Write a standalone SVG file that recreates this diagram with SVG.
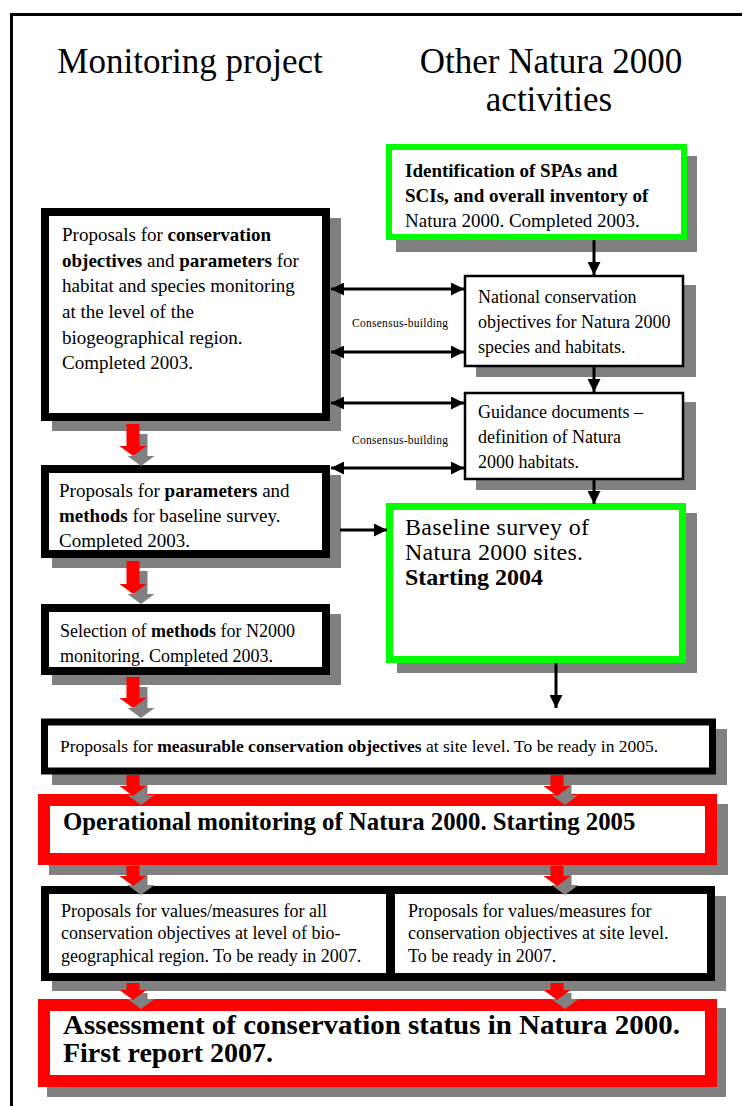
<svg xmlns="http://www.w3.org/2000/svg" width="742" height="1106" viewBox="0 0 742 1106">
<defs>
<style>
text{font-family:"Liberation Serif","Times New Roman",serif;fill:#000}
.t{font-size:35px}
.b{font-weight:bold}
.sh{fill:#808080}
.bk{fill:#fff;stroke:#000}
.gr{fill:#fff;stroke:#00ff00}
.rd{fill:#fff;stroke:#ff0000}
.ln{stroke:#000;stroke-width:3;fill:none}
.ra{fill:#ff0000}
.cb{font-size:11.5px}
</style>
<marker id="ah" viewBox="0 0 13 13" refX="13" refY="6.5" markerWidth="13" markerHeight="13" markerUnits="userSpaceOnUse" orient="auto-start-reverse"><path d="M0,0 L13,6.5 L0,13 z" fill="#000"/></marker>
</defs>
<rect width="742" height="1106" fill="#fff"/>
<path d="M11.5,1106 V14.5 H742" fill="none" stroke="#000" stroke-width="3"/>

<g id="titles">
<text class="t" x="190" y="73" text-anchor="middle">Monitoring project</text>
<text class="t" x="551" y="73" text-anchor="middle">Other Natura 2000</text>
<text class="t" x="549" y="111" text-anchor="middle">activities</text>
</g>

<g id="n-identification">
<rect class="sh" x="396" y="156" width="301" height="96"/>
<rect class="gr" x="389" y="147" width="295" height="90" stroke-width="6"/>
<text x="405" y="177" font-size="19" class="b">Identification of SPAs and</text>
<text x="405" y="202" font-size="19" class="b">SCIs, and overall inventory of</text>
<text x="405" y="227" font-size="19">Natura 2000. Completed 2003.</text>
</g>

<g id="n-proposals-objectives">
<rect class="sh" x="52" y="218" width="289" height="213"/>
<rect class="bk" x="45" y="212" width="281" height="205" stroke-width="8"/>
<text x="62" y="241" font-size="19">Proposals for <tspan class="b">conservation</tspan></text>
<text x="62" y="267" font-size="19"><tspan class="b">objectives</tspan> and <tspan class="b">parameters</tspan> for</text>
<text x="62" y="292" font-size="19">habitat and species monitoring</text>
<text x="62" y="318" font-size="19">at the level of the</text>
<text x="62" y="344" font-size="19">biogeographical region.</text>
<text x="62" y="369" font-size="19">Completed 2003.</text>
</g>

<g id="n-national">
<rect class="sh" x="476" y="285" width="220" height="92"/>
<rect class="bk" x="465" y="276" width="218" height="90" stroke-width="2.5"/>
<text x="478" y="303" font-size="18">National conservation</text>
<text x="478" y="328" font-size="18">objectives for Natura 2000</text>
<text x="478" y="353" font-size="18">species and habitats.</text>
</g>

<g id="n-guidance">
<rect class="sh" x="476" y="402" width="220" height="88"/>
<rect class="bk" x="465" y="393" width="218" height="86" stroke-width="2.5"/>
<text x="478" y="418" font-size="18">Guidance documents –</text>
<text x="478" y="443" font-size="18">definition of Natura</text>
<text x="478" y="468" font-size="18">2000 habitats.</text>
</g>

<g id="n-proposals-parameters">
<rect class="sh" x="52" y="475" width="289" height="93"/>
<rect class="bk" x="45" y="469" width="281" height="85" stroke-width="8"/>
<text x="59" y="497" font-size="19">Proposals for <tspan class="b">parameters</tspan> and</text>
<text x="59" y="522" font-size="19"><tspan class="b">methods</tspan> for baseline survey.</text>
<text x="59" y="547" font-size="19">Completed 2003.</text>
</g>

<g id="n-selection">
<rect class="sh" x="52" y="614" width="289" height="71"/>
<rect class="bk" x="45" y="608" width="281" height="63" stroke-width="8"/>
<text x="60" y="637" font-size="18">Selection of <tspan class="b">methods</tspan> for N2000</text>
<text x="60" y="662" font-size="18">monitoring. Completed 2003.</text>
</g>

<g id="n-baseline">
<rect class="sh" x="397" y="513" width="300" height="160"/>
<rect class="gr" x="389.5" y="506.5" width="293" height="153" stroke-width="7"/>
<text x="405" y="535" font-size="24" textLength="184">Baseline survey of</text>
<text x="405" y="560" font-size="24" textLength="178">Natura 2000 sites.</text>
<text x="405" y="585" font-size="24" class="b">Starting 2004</text>
</g>

<g id="n-measurable">
<rect class="sh" x="52" y="729" width="675" height="56"/>
<rect class="bk" x="44.5" y="722" width="668" height="49" stroke-width="7"/>
<text x="60" y="752" font-size="17.5">Proposals for <tspan class="b">measurable conservation objectives</tspan> at site level. To be ready in 2005.</text>
</g>

<g id="n-operational">
<rect class="sh" x="49" y="804" width="679" height="71"/>
<rect class="rd" x="44" y="800" width="667" height="59" stroke-width="12"/>
<text x="63" y="830" font-size="24.8" class="b">Operational monitoring of Natura 2000. Starting 2005</text>
</g>

<g id="n-values">
<rect class="sh" x="52" y="896" width="674" height="95"/>
<rect class="bk" x="45" y="890" width="666" height="87" stroke-width="8"/>
<line x1="390.5" y1="890" x2="390.5" y2="977" stroke="#000" stroke-width="9"/>
<text x="61" y="917" font-size="18">Proposals for values/measures for all</text>
<text x="61" y="939" font-size="18">conservation objectives at level of bio-</text>
<text x="61" y="962" font-size="18">geographical region. To be ready in 2007.</text>
<text x="408" y="917" font-size="18">Proposals for values/measures for</text>
<text x="408" y="939" font-size="18">conservation objectives at site level.</text>
<text x="408" y="962" font-size="18">To be ready in 2007.</text>
</g>

<g id="n-assessment">
<rect class="sh" x="47" y="1008" width="679" height="89"/>
<rect class="rd" x="44" y="1005" width="667" height="76" stroke-width="12"/>
<text x="63" y="1034" font-size="27.5" class="b" textLength="617" lengthAdjust="spacingAndGlyphs">Assessment of conservation status in Natura 2000.</text>
<text x="63" y="1062" font-size="27.5" class="b" textLength="210" lengthAdjust="spacingAndGlyphs">First report 2007.</text>
</g>

<g id="connectors">
<line class="ln" x1="594" y1="240" x2="594" y2="275" marker-end="url(#ah)"/>
<line class="ln" x1="594" y1="367" x2="594" y2="392" marker-end="url(#ah)"/>
<line class="ln" x1="594" y1="480" x2="594" y2="504" marker-end="url(#ah)"/>
<line class="ln" x1="556" y1="663" x2="556" y2="708" marker-end="url(#ah)"/>
<line class="ln" x1="340" y1="530" x2="387" y2="530" marker-end="url(#ah)"/>
<line class="ln" x1="331" y1="289" x2="464" y2="289" marker-start="url(#ah)" marker-end="url(#ah)"/>
<line class="ln" x1="331" y1="352" x2="464" y2="352" marker-start="url(#ah)" marker-end="url(#ah)"/>
<line class="ln" x1="331" y1="403" x2="464" y2="403" marker-start="url(#ah)" marker-end="url(#ah)"/>
<line class="ln" x1="331" y1="468" x2="464" y2="468" marker-start="url(#ah)" marker-end="url(#ah)"/>
<text class="cb" x="352" y="327" textLength="96">Consensus-building</text>
<text class="cb" x="352" y="444" textLength="96">Consensus-building</text>

<path class="sh" d="M134.5,434 H147.5 V456 H154.5 L141,466 L127.5,456 H134.5 Z"/>
<path class="ra" d="M126.5,424 H139.5 V446 H146.5 L133,456 L119.5,446 H126.5 Z"/>
<path class="sh" d="M134.5,571 H147.5 V594 H154.5 L141,604 L127.5,594 H134.5 Z"/>
<path class="ra" d="M126.5,561 H139.5 V584 H146.5 L133,594 L119.5,584 H126.5 Z"/>
<path class="sh" d="M134.5,687 H147.5 V708 H154.5 L141,718 L127.5,708 H134.5 Z"/>
<path class="ra" d="M126.5,677 H139.5 V698 H146.5 L133,708 L119.5,698 H126.5 Z"/>

<path class="sh" d="M134.5,785 H147.5 V795 H154.5 L141,805 L127.5,795 H134.5 Z"/>
<path class="ra" d="M126.5,775 H139.5 V786 H146.5 L133,796 L119.5,786 H126.5 Z"/>
<path class="sh" d="M558.5,785 H571.5 V795 H578.5 L565,805 L551.5,795 H558.5 Z"/>
<path class="ra" d="M550.5,775 H563.5 V786 H570.5 L557,796 L543.5,786 H550.5 Z"/>

<path class="sh" d="M134.5,875 H147.5 V885 H154.5 L141,895 L127.5,885 H134.5 Z"/>
<path class="ra" d="M126.5,866 H139.5 V876 H146.5 L133,886 L119.5,876 H126.5 Z"/>
<path class="sh" d="M558.5,875 H571.5 V885 H578.5 L565,895 L551.5,885 H558.5 Z"/>
<path class="ra" d="M550.5,866 H563.5 V876 H570.5 L557,886 L543.5,876 H550.5 Z"/>

<path class="sh" d="M134.5,993 H147.5 V999 H154.5 L141,1009 L127.5,999 H134.5 Z"/>
<path class="ra" d="M126.5,983 H139.5 V990 H146.5 L133,1000 L119.5,990 H126.5 Z"/>
<path class="sh" d="M558.5,993 H571.5 V999 H578.5 L565,1009 L551.5,999 H558.5 Z"/>
<path class="ra" d="M550.5,983 H563.5 V990 H570.5 L557,1000 L543.5,990 H550.5 Z"/>
</g>
</svg>
